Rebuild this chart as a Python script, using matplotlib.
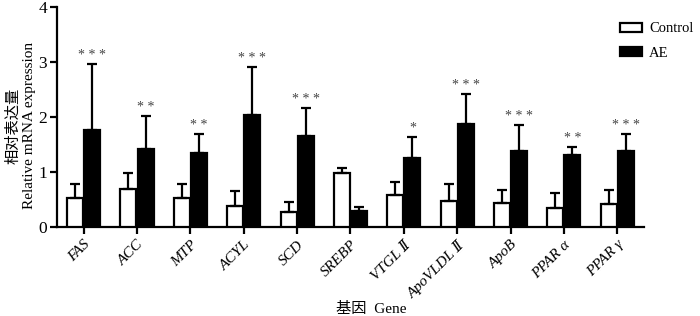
import numpy as np
import matplotlib.pyplot as plt

genes = ['FAS', 'ACC', 'MTP', 'ACYL', 'SCD', 'SREBP', 'VTGL Ⅱ', 'ApoVLDL Ⅱ', 'ApoB', 'PPAR α', 'PPAR γ']
control = [0.52, 0.69, 0.52, 0.39, 0.27, 0.99, 0.59, 0.47, 0.44, 0.34, 0.42]
control_err = [0.27, 0.29, 0.27, 0.27, 0.19, 0.09, 0.23, 0.32, 0.23, 0.28, 0.25]
ae = [1.76, 1.42, 1.35, 2.04, 1.65, 0.30, 1.26, 1.87, 1.39, 1.31, 1.39]
ae_err = [1.20, 0.60, 0.34, 0.87, 0.51, 0.06, 0.38, 0.54, 0.46, 0.15, 0.30]
stars = ['***', '**', '**', '***', '***', '', '*', '***', '***', '**', '***']

serif = ['Liberation Serif', 'DejaVu Serif', 'Noto Sans CJK SC']
plt.rcParams['font.family'] = serif

fig = plt.figure(figsize=(7, 3.16), dpi=100)
ax = fig.add_axes([0.0814, 0.2816, 0.8386, 0.6962])

x = np.arange(len(genes))
w = 0.30
off = 0.16
lw = 1.6

ax.bar(x - off, control, w, color='white', edgecolor='black', linewidth=lw,
       yerr=[np.zeros(len(x)), control_err], capsize=3.5,
       error_kw=dict(elinewidth=lw, capthick=lw, ecolor='black'), label='Control', zorder=3)
ax.bar(x + off, ae, w, color='black', edgecolor='black', linewidth=lw,
       yerr=[np.zeros(len(x)), ae_err], capsize=3.5,
       error_kw=dict(elinewidth=lw, capthick=lw, ecolor='black'), label='AE', zorder=3)

# significance marks above the AE bars
for xi, v, e, s in zip(x, ae, ae_err, stars):
    if s:
        ax.text(xi + off, v + e + 0.04, ' '.join(s), ha='center', va='bottom',
                fontsize=10, color='#444444')

ax.set_xlim(-0.5, 10.5)
ax.set_ylim(0, 4)
ax.set_yticks([0, 1, 2, 3, 4])
ax.set_xticks(x)
ax.set_xticklabels(genes, rotation=45, ha='right', rotation_mode='anchor',
                   fontstyle='italic', fontsize=11)
ax.tick_params(axis='y', labelsize=12.5, width=lw, length=5, direction='out', pad=2)
ax.tick_params(axis='x', width=lw, length=5, direction='out', pad=3)
for sp in ['top', 'right']:
    ax.spines[sp].set_visible(False)
for sp in ['left', 'bottom']:
    ax.spines[sp].set_linewidth(lw)

ax.set_ylabel('相对表达量\nRelative mRNA expression', fontsize=11, linespacing=1.25)
ax.yaxis.set_label_coords(-0.036, 0.46)
ax.set_xlabel('基因  Gene', fontsize=11, va='center')
ax.xaxis.set_label_coords(0.535, -0.372)

ax.legend(loc='upper left', bbox_to_anchor=(0.945, 0.97), frameon=False, fontsize=10.5,
          handlelength=1.5, handleheight=0.55, labelspacing=0.8, handletextpad=0.45,
          borderaxespad=0.2)

fig.savefig('out.png', dpi=100)
